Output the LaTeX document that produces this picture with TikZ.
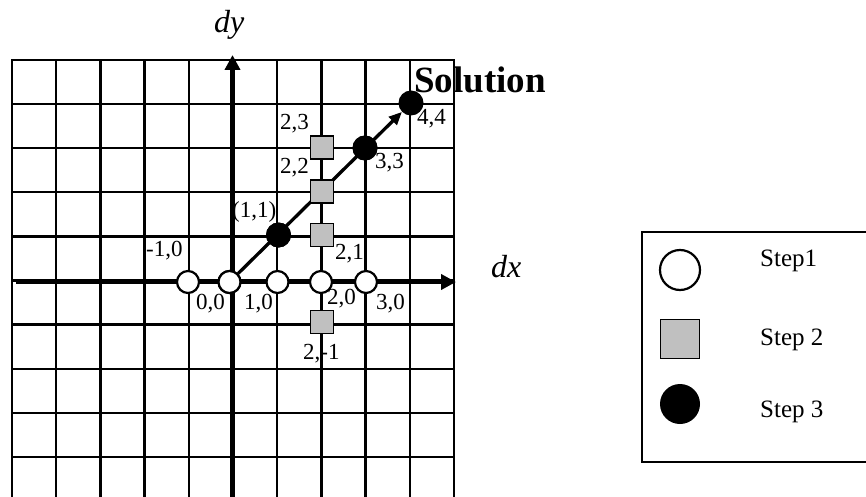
\documentclass[tikz,border=0pt]{standalone}
\usepackage{fontspec}
\setmainfont{Liberation Serif}
\usetikzlibrary{arrows.meta}
\definecolor{sqgray}{RGB}{192,192,192}
\tikzset{
 gridline/.style={line width=2.3pt, line cap=rect},
 axisline/.style={line width=4.8pt},
 stepone/.style={circle, draw, line width=2.2pt, fill=white, minimum size=22pt, inner sep=0pt},
 steptwo/.style={rectangle, draw, line width=1.8pt, fill=sqgray, minimum size=23pt, inner sep=0pt},
 stepthree/.style={circle, fill=black, minimum size=25pt, inner sep=0pt},
 lbl/.style={anchor=base west, inner sep=0pt, font=\fontsize{23}{27}\selectfont},
 leg/.style={anchor=base west, inner sep=0pt, font=\fontsize{25}{30}\selectfont},
 axlbl/.style={anchor=base west, inner sep=0pt, font=\fontsize{32}{38}\selectfont\itshape},
 sollbl/.style={anchor=base west, inner sep=0pt, font=\fontsize{37}{44}\selectfont\bfseries},
}
\begin{document}
\begin{tikzpicture}[x=1pt,y=-1pt]
\useasboundingbox (0,0) rectangle (866,497);
\begin{scope}
\clip (0,0) rectangle (866,497);
% grid
\foreach \i in {0,...,10} \draw[gridline] ({12+44.2*\i},60) -- ({12+44.2*\i},505);
\foreach \j in {0,...,9} \draw[gridline] (12,{60+44.1*\j}) -- (454,{60+44.1*\j});
% axes
\coordinate (ybot) at (232.5,505);
\coordinate (ytop) at (232.5,55);
\coordinate (xleft) at (16,282);
\coordinate (xright) at (456,282);
\draw[axisline, -{Triangle[length=15pt,width=15pt]}] (ybot) -- (ytop);
\draw[axisline, -{Triangle[length=15pt,width=15pt]}] (xleft) -- (xright);
% markers
\node[stepone] (cm10) at (188,282) {};
\node[stepone] (c00) at (229.5,282) {};
\node[stepone] (c10) at (277.5,282) {};
\node[stepone] (c20) at (321,282) {};
\node[stepone] (c30) at (366,282) {};
\node[steptwo] (q23) at (322,147.5) {};
\node[steptwo] (q22) at (322,191.5) {};
\node[steptwo] (q21) at (322,235) {};
\node[steptwo] (q2m1) at (322,322) {};
\node[stepthree] (s11) at (278.5,235) {};
\node[stepthree] (s33) at (365,148) {};
\node[stepthree] (s44) at (411,103) {};
\draw[line width=3.3pt, -{Triangle[length=13pt,width=11pt]}] (c00) -- (s44);
\node[stepone] at (c00) {};
\node[stepthree] at (s11) {};
\node[stepthree] at (s33) {};
\node[steptwo] at (q22) {};
% labels
\node[axlbl] (dy) at (214,33) {dy};
\node[axlbl] (dx) at (491,277) {dx};
\node[sollbl] (sol) at (414,93) {Solution};
\node[lbl] (l44) at (417,125) {4,4};
\node[lbl] (l23) at (280,130) {2,3};
\node[lbl] (l22) at (280,173) {2,2};
\node[lbl] (l33) at (375,168) {3,3};
\node[lbl] (l11) at (232,217) {(1,1)};
\node[lbl] (l21) at (335,259) {2,1};
\node[lbl] (lm10) at (146,256) {-1,0};
\node[lbl] (l00) at (196,309) {0,0};
\node[lbl] (l10) at (244,309) {1,0};
\node[lbl] (l20) at (327,304) {2,0};
\node[lbl] (l30) at (376,309) {3,0};
\node[lbl] (l2m1) at (303,359) {2,-1};
% legend
\draw[line width=2pt] (642,232) rectangle (880,462);
\node[stepone, minimum size=40pt] (legc) at (680,270) {};
\node[steptwo, minimum size=39pt] (legq) at (680,339) {};
\node[stepthree, minimum size=40pt] (legs) at (680,404) {};
\node[leg] (t1) at (760,266) {Step1};
\node[leg] (t2) at (760,345) {Step 2};
\node[leg] (t3) at (760,417) {Step 3};
\end{scope}
\end{tikzpicture}
\end{document}
